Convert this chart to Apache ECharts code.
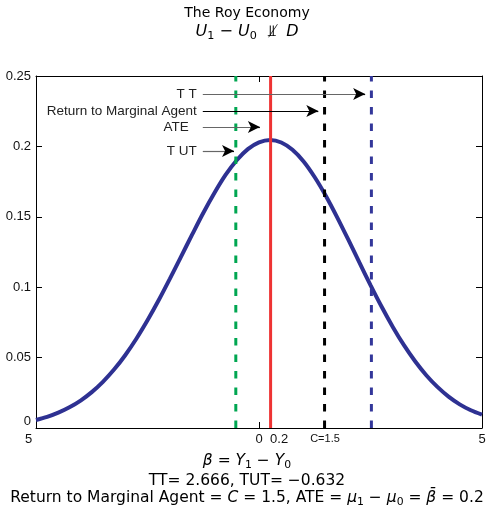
<!DOCTYPE html>
<html>
<head>
<meta charset="utf-8">
<script src="https://cdn.jsdelivr.net/npm/echarts@6/dist/echarts.min.js"></script>
<style>html,body{margin:0;padding:0;background:#fff}#c{width:494px;height:507px}</style>
</head>
<body>
<div id="c"></div>
<script>
// density curve of beta
const curveX = [-5, -4.75, -4.5, -4.25, -4, -3.75, -3.5, -3.25, -3, -2.75, -2.5, -2.25, -2, -1.75, -1.5, -1.25, -1, -0.75, -0.5, -0.25, 0, 0.25, 0.5, 0.75, 1, 1.25, 1.5, 1.75, 2, 2.25, 2.5, 2.75, 3, 3.25, 3.5, 3.75, 4, 4.25, 4.5, 4.75, 5];
const curveY = [0.0057, 0.0079, 0.0109, 0.0147, 0.0195, 0.0255, 0.0328, 0.0415, 0.0517, 0.0634, 0.0765, 0.0907, 0.1059, 0.1216, 0.1373, 0.1527, 0.1669, 0.1797, 0.1902, 0.1981, 0.2029, 0.2046, 0.2028, 0.1976, 0.1893, 0.1781, 0.1648, 0.1498, 0.1339, 0.1176, 0.1015, 0.0861, 0.0718, 0.0588, 0.0474, 0.0375, 0.0292, 0.0223, 0.0168, 0.0126, 0.0095];

// vertical reference lines (positions as drawn)
const vlineNames  = ['TUT', 'ATE', 'C', 'TT'];
const vlineX      = [-0.52, 0.26, 1.47, 2.52];
const vlineColors = ['#00a651', '#ee3333', '#000000', '#33379a'];
const vlineDashed = [true, false, true, true];

// annotation arrows (start, arrow tip, height)
const arrowLabels = ['T T', 'Return to Marginal Agent', 'ATE', 'T UT'];
const arrowY      = [0.2372, 0.2252, 0.2138, 0.1967];
const arrowStartX = [-1.26, -1.26, -1.26, -1.26];
const arrowTipX   = [2.38, 1.33, 0.02, -0.56];
const arrowColors = ['#666666', '#000000', '#666666', '#666666'];
const arrowLabelGap = [6, 6, 14, 6];

// axis tick labels
const xLabelValues = [-5, 0, 0.45, 1.48, 5];
const xLabelTexts  = ['5', '0', '0.2', 'C=1.5', '5'];
const yMin = 0, yMax = 0.25, yInterval = 0.05;
const xMin = -5, xMax = 5, xInterval = 5;

const chart = echarts.init(document.getElementById('c'));

const series = [];
series.push({
  type: 'line',
  data: curveX.map((x, i) => [x, curveY[i]]),
  smooth: 0.3,
  showSymbol: false,
  lineStyle: { color: '#2e3192', width: 4 },
  z: 2,
  silent: true
});
vlineX.forEach((x, i) => {
  series.push({
    type: 'line',
    name: vlineNames[i],
    data: [[x, yMin], [x, yMax]],
    showSymbol: false,
    lineStyle: { color: vlineColors[i], width: 3, type: vlineDashed[i] ? [7.5, 9] : 'solid' },
    z: 3,
    silent: true
  });
});
// shafts with labels
series.push({
  type: 'line',
  data: [],
  z: 4,
  markLine: {
    silent: true,
    animation: false,
    symbol: ['none', 'none'],
    precision: 4,
    data: arrowLabels.map((t, i) => [
      { coord: [arrowStartX[i], arrowY[i]], lineStyle: { color: arrowColors[i], width: 1.2, type: 'solid' },
        label: { show: true, formatter: t, position: 'start', distance: arrowLabelGap[i], color: '#222', fontSize: 13.5, fontFamily: 'Liberation Sans' } },
      { coord: [arrowTipX[i] - 0.1, arrowY[i]] }
    ])
  }
});
// black arrow heads
series.push({
  type: 'line',
  data: [],
  z: 5,
  markLine: {
    silent: true,
    animation: false,
    symbol: ['none', 'arrow'],
    symbolSize: [9, 12],
    precision: 4,
    label: { show: false },
    lineStyle: { color: '#000', width: 1.2, type: 'solid' },
    data: arrowLabels.map((t, i) => [
      { coord: [arrowTipX[i] - 0.15, arrowY[i]] },
      { coord: [arrowTipX[i], arrowY[i]] }
    ])
  }
});

const axisLineStyle = { show: true, onZero: false, lineStyle: { color: '#000', width: 1 } };
const tickStyle = { show: true, inside: true, length: 6, lineStyle: { color: '#000', width: 1 } };

const FONT = 'DejaVu Sans';
const mathRich = function (size) {
  return {
    n: { fontFamily: FONT, fontSize: size, lineHeight: 20, verticalAlign: 'middle', color: '#000' },
    i: { fontFamily: FONT, fontSize: size, fontStyle: 'italic', lineHeight: 20, verticalAlign: 'middle', color: '#000' },
    s: { fontFamily: FONT, fontSize: size * 0.7, lineHeight: 11, verticalAlign: 'bottom', color: '#000' }
  };
};

chart.setOption({
  animation: false,
  backgroundColor: '#fff',
  grid: { left: 36, right: 12, top: 76, bottom: 79, containLabel: false },
  xAxis: [
    {
      type: 'value', min: xMin, max: xMax, interval: xInterval, position: 'bottom',
      axisLine: axisLineStyle,
      axisTick: Object.assign({}, tickStyle, { customValues: [-5, 0, 5] }),
      splitLine: { show: false },
      axisLabel: {
        customValues: xLabelValues,
        margin: 5,
        color: '#111', fontSize: 13, fontFamily: 'Liberation Sans',
        formatter: function (v) {
          const i = xLabelValues.findIndex(p => Math.abs(p - v) < 1e-6);
          const t = i >= 0 ? xLabelTexts[i] : '';
          if (v === xMin) return '{l|' + t + '}';
          if (t === 'C=1.5') return '{s|' + t + '}';
          return t;
        },
        rich: {
          l: { padding: [0, 15, 0, 0], fontSize: 13, color: '#111', fontFamily: 'Liberation Sans' },
          s: { fontSize: 11, color: '#111', fontFamily: 'Liberation Sans' }
        }
      }
    },
    {
      type: 'value', min: xMin, max: xMax, interval: xInterval, position: 'top',
      axisLine: axisLineStyle, axisTick: tickStyle, axisLabel: { show: false }, splitLine: { show: false }
    }
  ],
  yAxis: [
    {
      type: 'value', min: yMin, max: yMax, interval: yInterval, position: 'left',
      axisLine: axisLineStyle, axisTick: tickStyle, splitLine: { show: false },
      axisLabel: {
        margin: 5, color: '#111', fontSize: 13, fontFamily: 'Liberation Sans',
        formatter: function (v) { return v === 0 ? '{z|0}' : String(+v.toFixed(2)); },
        rich: { z: { padding: [0, 0, 14, 0], fontSize: 13, color: '#111', fontFamily: 'Liberation Sans' } }
      }
    },
    {
      type: 'value', min: yMin, max: yMax, interval: yInterval, position: 'right',
      axisLine: axisLineStyle, axisTick: tickStyle, axisLabel: { show: false }, splitLine: { show: false }
    }
  ],
  series: series,
  graphic: [
    { type: 'text', left: 'center', top: 6, style: { text: 'The Roy Economy', font: '14px "DejaVu Sans"', fill: '#000' } },
    { type: 'text', left: 'center', top: 24, style: {
        text: '{i|U}{s|1}{n| − }{i|U}{s|0}{n|  ⫫̸  }{i|D}', rich: mathRich(16) } },
    { type: 'text', left: 'center', top: 453, style: {
        text: '{i|β}{n| = }{i|Y}{s|1}{n| − }{i|Y}{s|0}', rich: mathRich(15.5) } },
    { type: 'text', left: 'center', top: 473, style: { text: 'TT= 2.666, TUT= −0.632', font: '15.5px "DejaVu Sans"', fill: '#000' } },
    { type: 'text', left: 'center', top: 490, style: {
        text: '{n|Return to Marginal Agent = }{i|C}{n| = 1.5, ATE = }{i|μ}{s|1}{n| − }{i|μ}{s|0}{n| = }{i|β̄}{n| = 0.2}', rich: mathRich(15.5) } }
  ]
});
</script>
</body>
</html>
